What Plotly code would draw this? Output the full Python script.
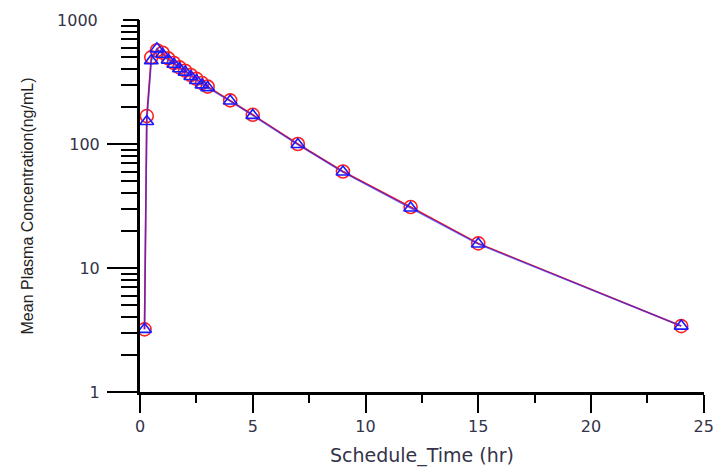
import plotly.graph_objects as go

# Data
time_hr = [0.2, 0.3, 0.5, 0.75, 1.0, 1.25, 1.5, 1.75, 2.0, 2.25, 2.5, 2.75, 3.0, 4, 5, 7, 9, 12, 15, 24]
conc_red = [3.2, 168, 500, 570, 545, 490, 450, 415, 390, 360, 335, 310, 290, 225, 172, 100, 60, 31, 15.8, 3.4]
conc_blue = [3.2, 152, 470, 585, 530, 475, 440, 405, 380, 350, 325, 300, 285, 222, 170, 99, 59.5, 30.5, 15.6, 3.4]

x_ticks = [0, 5, 10, 15, 20, 25]
x_minor = [2.5, 7.5, 12.5, 17.5, 22.5]
y_ticks = [1, 10, 100]
y_ticks_top = [1000]
y_minor = [m * 10 ** e for e in range(0, 3) for m in range(2, 10)]

fig = go.Figure()
fig.add_trace(go.Scatter(
    x=time_hr, y=conc_red, mode="lines+markers",
    line=dict(color="#ff1010", width=1.6),
    marker=dict(symbol="circle-open", size=13, color="#ff2020", line=dict(width=1.6, color="#ff2020")),
    cliponaxis=False, showlegend=False,
))
fig.add_trace(go.Scatter(
    x=time_hr, y=conc_blue, mode="lines+markers",
    line=dict(color="rgba(40,40,255,0.65)", width=1.6),
    marker=dict(symbol="triangle-up-open", size=12, color="#1a1aff", line=dict(width=1.6, color="#1a1aff")),
    cliponaxis=False, showlegend=False,
))
# invisible trace to activate overlay axis
fig.add_trace(go.Scatter(x=[None], y=[None], yaxis="y2", showlegend=False, hoverinfo="skip"))

tick_font = dict(family="DejaVu Sans, Verdana, sans-serif", size=16, color="#33334a")

fig.update_layout(
    width=714, height=467,
    margin=dict(l=140, r=10, t=20, b=75),
    paper_bgcolor="white", plot_bgcolor="white",
    xaxis=dict(
        range=[0, 25.01], tickvals=x_ticks, ticks="outside", ticklen=18, tickwidth=2, tickcolor="black",
        showline=True, linewidth=3, linecolor="black", showgrid=False, zeroline=False,
        tickfont=tick_font, automargin=False, ticklabelstandoff=0,
        minor=dict(tickvals=x_minor, ticks="outside", ticklen=8, tickwidth=2, tickcolor="black", showgrid=False),
        title=dict(text="Schedule_Time (hr)", font=dict(family="DejaVu Sans, Verdana, sans-serif", size=19, color="#33334a"), standoff=19),
    ),
    yaxis=dict(
        type="log", range=[0, 3], tickvals=y_ticks, ticktext=["1", "10", "100"],
        ticks="outside", ticklen=30, tickwidth=2, tickcolor="black",
        showline=True, linewidth=3, linecolor="black", showgrid=False, zeroline=False,
        tickfont=tick_font, automargin=False, ticklabelstandoff=4,
        minor=dict(tickvals=y_minor, ticks="outside", ticklen=16, tickwidth=2, tickcolor="black", showgrid=False),
        title=dict(text="Mean Plasma Concentration(ng/mL)", font=dict(family="Liberation Sans, Arial, sans-serif", size=16, color="#222222"), standoff=32),
    ),
    yaxis2=dict(
        type="log", range=[0, 3], overlaying="y", side="left", tickvals=y_ticks_top, ticktext=["1000"],
        ticks="outside", ticklen=16, tickwidth=2, tickcolor="black", showgrid=False, zeroline=False,
        showline=False, tickfont=tick_font, ticklabelstandoff=22, automargin=False,
    ),
)

fig.write_html("out.html", config={"displayModeBar": False},
               post_script="document.body.style.margin='0';document.body.style.padding='0';")
